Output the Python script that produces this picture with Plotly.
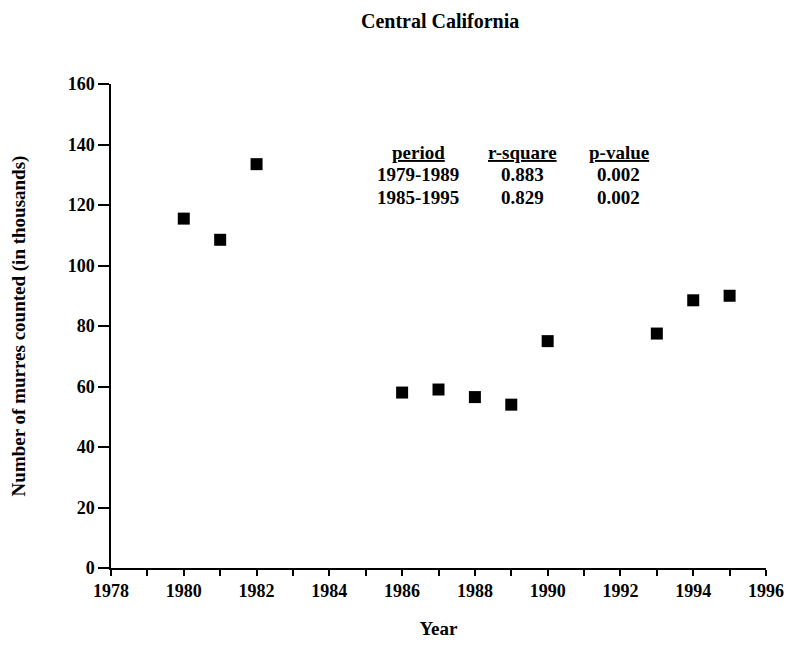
import plotly.graph_objects as go

years = [1980, 1981, 1982, 1986, 1987, 1988, 1989, 1990, 1993, 1994, 1995]
murres = [115.5, 108.5, 133.5, 58, 59, 56.5, 54, 75, 77.5, 88.5, 90]

periods = ["1979-1989", "1985-1995"]
r_square = ["0.883", "0.829"]
p_value = ["0.002", "0.002"]
headers = ["period", "r-square", "p-value"]

FONT = "Liberation Serif"

fig = go.Figure()
fig.add_trace(go.Scatter(
    x=years, y=murres, mode="markers",
    marker=dict(symbol="square", size=12, color="black"),
    showlegend=False,
))

# statistics table as annotations
col_x = [1986.45, 1989.3, 1991.95]
row_y = [137.5, 130, 122.4]
for cx, h in zip(col_x, headers):
    fig.add_annotation(x=cx, y=row_y[0], text=f"<b><u>{h}</u></b>", showarrow=False,
                       font=dict(family=FONT, size=19, color="black"))
for i in range(len(periods)):
    for cx, val in zip(col_x, [periods[i], r_square[i], p_value[i]]):
        fig.add_annotation(x=cx, y=row_y[i + 1], text=f"<b>{val}</b>", showarrow=False,
                           font=dict(family=FONT, size=19, color="black"))

fig.update_layout(
    width=780, height=631,
    margin=dict(l=103, r=22, t=76, b=71, autoexpand=False),
    paper_bgcolor="white", plot_bgcolor="white",
    font=dict(family=FONT, size=15, color="black"),
    title=dict(text="<b>Central California</b>", x=0.554, xanchor="center", y=0.979, yanchor="middle",
               font=dict(family=FONT, size=20, color="black")),
    xaxis=dict(
        range=[1978, 1996], tickmode="linear", tick0=1978, dtick=2,
        showgrid=False, zeroline=False, showline=True, linecolor="black", linewidth=1.5,
        ticks="outside", ticklen=6, tickwidth=1.5, tickcolor="black", automargin=False,
        tickfont=dict(family=FONT, size=18, color="black", weight="bold"),
        minor=dict(dtick=1, tick0=1978, ticks="outside", ticklen=6, tickwidth=1.5, tickcolor="black", showgrid=False),
        title=dict(text="<b>Year</b>", font=dict(family=FONT, size=19, color="black"), standoff=30),
    ),
    yaxis=dict(
        range=[0, 160], tickmode="linear", tick0=0, dtick=20,
        showgrid=False, zeroline=False, showline=True, linecolor="black", linewidth=1.5,
        ticks="outside", ticklen=11, tickwidth=1.5, tickcolor="black", automargin=False,
        tickfont=dict(family=FONT, size=18, color="black", weight="bold"),
        title=dict(text="<b>Number of murres counted (in thousands)</b>", font=dict(family=FONT, size=19, color="black"), standoff=38),
    ),
)

fig.write_html("out.html")
